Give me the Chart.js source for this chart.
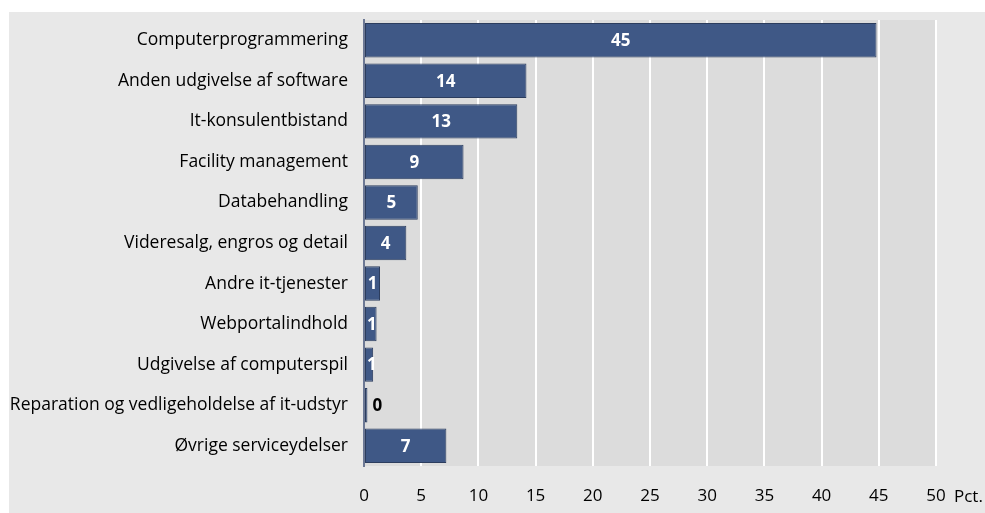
<!DOCTYPE html>
<html>
<head>
<meta charset="utf-8">
<script src="https://cdn.jsdelivr.net/npm/chart.js@4/dist/chart.umd.min.js"></script>
<style>
  html, body { margin: 0; padding: 0; background: #ffffff; }
  #wrap { width: 985px; height: 513px; }
</style>
</head>
<body>
<div id="wrap"><canvas id="itChart" width="985" height="513"></canvas></div>
<script>
const categories = [
  "Computerprogrammering",
  "Anden udgivelse af software",
  "It-konsulentbistand",
  "Facility management",
  "Databehandling",
  "Videresalg, engros og detail",
  "Andre it-tjenester",
  "Webportalindhold",
  "Udgivelse af computerspil",
  "Reparation og vedligeholdelse af it-udstyr",
  "Øvrige serviceydelser",
];
const shares = [44.8, 14.2, 13.4, 8.7, 4.7, 3.7, 1.4, 1.1, 0.8, 0.3, 7.2];
const shareLabels = ["45", "14", "13", "9", "5", "4", "1", "1", "1", "0", "7"];
const xTicks = [0, 5, 10, 15, 20, 25, 30, 35, 40, 45, 50];
const unitLabel = "Pct.";

const FONT = "'Open Sans', 'Noto Sans', sans-serif";

// grey panel behind everything, darker grey plot area
const panelBg = {
  id: "panelBg",
  beforeDraw(chart) {
    const { ctx, chartArea } = chart;
    ctx.save();
    ctx.fillStyle = "#e8e8e8";
    ctx.fillRect(9, 12, chart.width - 9, chart.height - 12);
    ctx.fillStyle = "#dcdcdc";
    ctx.fillRect(chartArea.left, chartArea.top, chartArea.right - chartArea.left, chartArea.bottom - chartArea.top);
    ctx.restore();
  },
};

// value labels in the bars + "Pct." after the last tick
const barLabels = {
  id: "barLabels",
  afterDatasetsDraw(chart) {
    const { ctx } = chart;
    const meta = chart.getDatasetMeta(0);
    ctx.save();
    ctx.font = "bold 17px " + FONT;
    ctx.textBaseline = "middle";
    meta.data.forEach((bar, i) => {
      const w = bar.x - bar.base;
      const txt = shareLabels[i];
      const tw = ctx.measureText(txt).width;
      if (w > tw + 2) {
        ctx.fillStyle = "#ffffff";
        ctx.textAlign = "center";
        ctx.fillText(txt, (bar.x + bar.base) / 2, bar.y + 1);
      } else if (w > 6) {
        ctx.fillStyle = "#ffffff";
        ctx.textAlign = "left";
        ctx.fillText(txt, bar.base + 2, bar.y + 1);
      } else {
        ctx.fillStyle = "#000000";
        ctx.textAlign = "left";
        ctx.fillText(txt, bar.x + 5, bar.y + 1);
      }
    });
    const xs = chart.scales.x;
    ctx.font = "17px " + FONT;
    ctx.fillStyle = "#000000";
    ctx.textAlign = "left";
    ctx.fillText(unitLabel, xs.getPixelForValue(50) + 18, 497);
    ctx.restore();
  },
};

new Chart(document.getElementById("itChart").getContext("2d"), {
  type: "bar",
  data: {
    labels: categories,
    datasets: [
      {
        data: shares,
        backgroundColor: "#3f5886",
        borderColor: "#2c3d5e",
        borderWidth: 1,
        borderSkipped: false,
        barPercentage: 0.85,
        categoryPercentage: 1,
      },
    ],
  },
  options: {
    indexAxis: "y",
    responsive: false,
    animation: false,
    layout: { padding: { top: 20, right: 49, left: 0, bottom: 0 } },
    plugins: {
      legend: { display: false },
      tooltip: { enabled: false },
    },
    scales: {
      x: {
        min: 0,
        max: 50,
        afterBuildTicks: (s) => { s.ticks = xTicks.map((v) => ({ value: v })); },
        afterFit: (s) => { s.height = 47; },
        grid: { color: "#ffffff", lineWidth: 2, drawTicks: false },
        border: { display: false },
        ticks: {
          padding: 20,
          color: "#000000",
          font: { family: FONT, size: 17 },
        },
      },
      y: {
        afterFit: (s) => {
          s.width = 364;
          s.paddingTop = 0;
          s.paddingBottom = 0;
        },
        grid: { display: false },
        border: { display: true, color: "#6c7894", width: 2 },
        ticks: {
          padding: 8,
          color: "#000000",
          font: { family: FONT, size: 17.5 },
        },
      },
    },
  },
  plugins: [panelBg, barLabels],
});
</script>
</body>
</html>
